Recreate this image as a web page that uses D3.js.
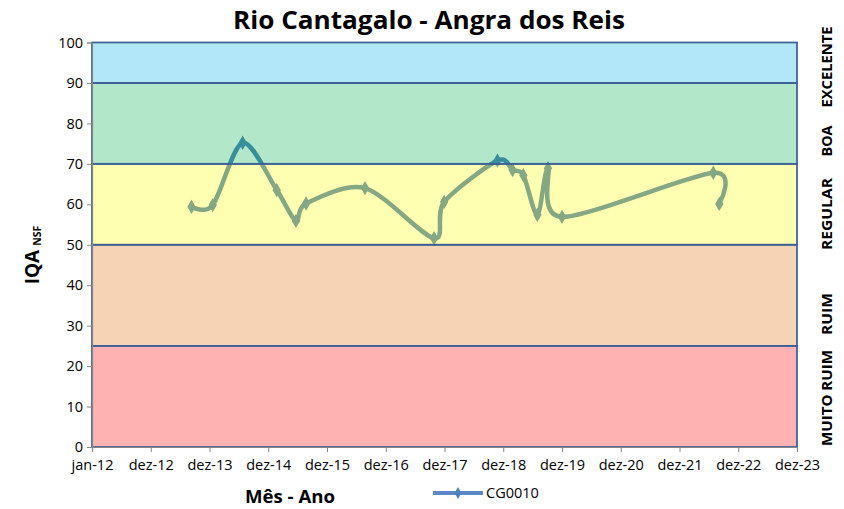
<!DOCTYPE html>
<html>
<head>
<meta charset="utf-8">
<script src="https://cdn.jsdelivr.net/npm/d3@7"></script>
<style>
  html, body { margin: 0; padding: 0; background: #fff; }
  svg { display: block; }
  text { font-family: "Open Sans", "Liberation Sans", sans-serif; }
</style>
</head>
<body>
<svg id="chart" width="844" height="509"></svg>
<script>
// ---- data ----
const seriesName = "CG0010";
const sampleDates = ["2013-09-10","2014-01-20","2014-07-25","2015-02-22","2015-06-21","2015-08-23",
  "2016-08-23","2017-10-26","2017-12-28","2018-11-24","2019-02-26","2019-05-04","2019-07-30",
  "2019-10-04","2019-12-30","2022-07-27","2022-09-02"];
const iqaValues = [59.4, 59.8, 75.2, 63.5, 55.9, 60.2, 64.0, 51.6, 60.6, 70.8, 68.5, 67.2, 57.4, 68.9, 56.9, 67.8, 60.1];
const xTickLabels = ["jan-12","dez-12","dez-13","dez-14","dez-15","dez-16","dez-17","dez-18","dez-19","dez-20","dez-21","dez-22","dez-23"];
const yTicks = [0,10,20,30,40,50,60,70,80,90,100];
const bandNames = ["MUITO RUIM","RUIM","REGULAR","BOA","EXCELENTE"];
const bandLower = [0, 25, 50, 70, 90];
const bandUpper = [25, 50, 70, 90, 100];
const bandColors = ["#ff0000", "#e46c0a", "#ffff00", "#00b050", "#00b0f0"];

// ---- layout ----
const svg = d3.select("#chart");
const L = 92, R = 797, T = 42.5, B = 447;
const day = 24 * 3600 * 1000;
const start = new Date(2012, 0, 1);
const x = d3.scaleTime().domain([start, new Date(+start + 12 * 365 * day)]).range([L, R]);
const y = d3.scaleLinear().domain([0, 100]).range([B, T]);
const parse = d3.timeParse("%Y-%m-%d");
const data = sampleDates.map((d, i) => ({ date: parse(d), v: iqaValues[i] }));

// ---- series line (drawn under translucent bands) ----
const line = d3.line().x(d => x(d.date)).y(d => y(d.v)).curve(d3.curveCardinal.tension(0.1));
svg.append("path").datum(data).attr("d", line)
  .attr("fill", "none").attr("stroke", "#4f81bd").attr("stroke-width", 4.5)
  .attr("stroke-linejoin", "round");
svg.append("g").selectAll("path").data(data).join("path")
  .attr("transform", d => `translate(${x(d.date)},${y(d.v)})`)
  .attr("d", d3.symbol().type(d3.symbolDiamond).size(60))
  .attr("fill", "#4f81bd");

// ---- bands ----
const bands = bandNames.map((n, i) => ({ name: n, lo: bandLower[i], hi: bandUpper[i], color: bandColors[i] }));
svg.append("g").selectAll("rect").data(bands).join("rect")
  .attr("x", L).attr("width", R - L)
  .attr("y", d => y(d.hi)).attr("height", d => y(d.lo) - y(d.hi))
  .attr("fill", d => d.color).attr("fill-opacity", 0.3)
  .attr("stroke", "#3d6096").attr("stroke-width", 1.75);

// ---- axes ----
const yAxis = d3.axisLeft(y).tickValues(yTicks).tickSize(5).tickPadding(4);
const gy = svg.append("g").attr("transform", `translate(${L},0)`).call(yAxis);
gy.select(".domain").attr("stroke", "#868686").attr("stroke-width", 1.2);
gy.selectAll(".tick line").attr("stroke", "#868686");
gy.selectAll(".tick text").attr("font-size", 14.5).attr("fill", "#000")
  .style("font-family", '"Open Sans", sans-serif');

const xTickDates = xTickLabels.map((l, i) => new Date(+start + i * 365 * day));
const xAxis = d3.axisBottom(x).tickValues(xTickDates).tickSize(5).tickPadding(8)
  .tickFormat((d, i) => xTickLabels[i]);
const gx = svg.append("g").attr("transform", `translate(0,${B})`).call(xAxis);
gx.select(".domain").attr("stroke", "#868686").attr("stroke-width", 1.2);
gx.selectAll(".tick line").attr("stroke", "#868686");
gx.selectAll(".tick text").attr("font-size", 14.5).attr("fill", "#000")
  .style("font-family", '"Open Sans", sans-serif');

// ---- titles ----
svg.append("text").attr("x", 429).attr("y", 29).attr("text-anchor", "middle")
  .attr("font-size", 25).attr("font-weight", "bold")
  .attr("textLength", 392).attr("lengthAdjust", "spacingAndGlyphs")
  .text("Rio Cantagalo - Angra dos Reis");

svg.append("text").attr("x", 290).attr("y", 503).attr("text-anchor", "middle")
  .attr("font-size", 17).attr("font-weight", "bold")
  .attr("textLength", 90).attr("lengthAdjust", "spacingAndGlyphs")
  .text("Mês - Ano");

const yt = svg.append("text").attr("transform", "translate(39,255) rotate(-90)")
  .attr("text-anchor", "middle").attr("font-weight", "bold");
yt.append("tspan").attr("font-size", 19).text("IQA");
yt.append("tspan").attr("font-size", 10.5).attr("dx", 4).attr("dy", 2).text("NSF");

// ---- band labels on the right ----
const labelY = [398, 314, 214, 141, 67];
const labelLen = [96, 42, 72, 31, 81];
svg.append("g").selectAll("text").data(bands).join("text")
  .attr("transform", (d, i) => `translate(832,${labelY[i]}) rotate(-90)`)
  .attr("text-anchor", "middle").attr("font-size", 13.5).attr("font-weight", "bold")
  .attr("textLength", (d, i) => labelLen[i]).attr("lengthAdjust", "spacingAndGlyphs")
  .text(d => d.name);

// ---- legend ----
const lg = svg.append("g");
lg.append("line").attr("x1", 433).attr("x2", 483).attr("y1", 493).attr("y2", 493)
  .attr("stroke", "#5a8ac6").attr("stroke-width", 4);
lg.append("path").attr("transform", "translate(458,493)")
  .attr("d", d3.symbol().type(d3.symbolDiamond).size(40)).attr("fill", "#4f81bd");
lg.append("text").attr("x", 486).attr("y", 498).attr("font-size", 14.5).text(seriesName);
</script>
</body>
</html>
